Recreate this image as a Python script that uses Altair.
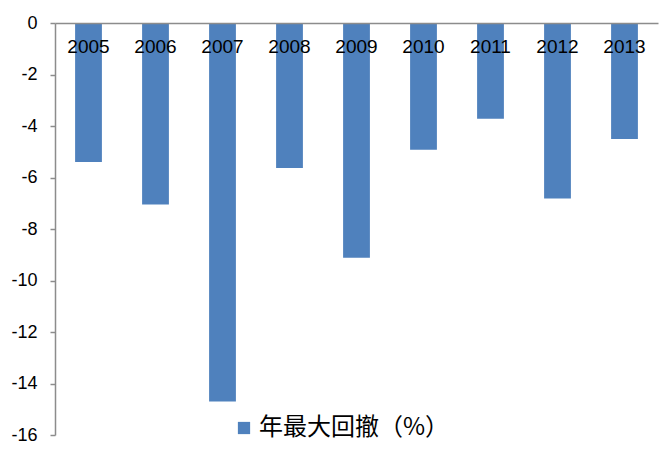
import altair as alt
import pandas as pd

years = ["2005", "2006", "2007", "2008", "2009", "2010", "2011", "2012", "2013"]
drawdown = [-5.4, -7.05, -14.7, -5.63, -9.12, -4.92, -3.72, -6.82, -4.5]
series_name = "年最大回撤（%）"
y_ticks = [0, -2, -4, -6, -8, -10, -12, -14, -16]

df = pd.DataFrame({"year": years, "value": drawdown, "series": [series_name] * len(years)})

W, H = 603, 412
gray = "#8c8c8c"

chart = alt.Chart(df).mark_bar(color="#4F81BD").encode(
    x=alt.X(
        "year:N",
        sort=years,
        scale=alt.Scale(paddingInner=0.6, paddingOuter=0.3),
        axis=alt.Axis(
            orient="top", title=None, labelAngle=0, zindex=1,
            labelFont="Liberation Sans", labelFontSize=19, labelColor="black",
            labelPadding=-14, labelBaseline="top", tickSize=0,
            domainColor=gray, grid=False,
        ),
    ),
    y=alt.Y(
        "value:Q", scale=alt.Scale(domain=[-16, 0], nice=False),
        axis=alt.Axis(
            orient="left", title=None, values=y_ticks, tickSize=5,
            labelExpr="'' + datum.value",
            labelFont="Liberation Sans", labelFontSize=18, labelColor="black",
            labelPadding=13, domainColor=gray, tickColor=gray, grid=False,
        ),
    ),
    color=alt.Color(
        "series:N",
        scale=alt.Scale(range=["#4F81BD"]),
        legend=alt.Legend(
            title=None, orient="none", legendX=177, legendY=393,
            symbolType="square", symbolSize=150, symbolStrokeWidth=0,
            labelFont="Noto Sans CJK SC", labelFontSize=24, labelColor="black",
            labelOffset=3, labelLimit=400,
        ),
    ),
).properties(
    width=W, height=H,
    autosize=alt.AutoSizeParams(type="none"),
    padding={"left": 47, "top": 15, "right": 5, "bottom": 15},
).configure_view(stroke=None).configure_axis(domainWidth=1.5, tickWidth=1.5)

chart.save("out.html", embed_options={"renderer": "svg", "actions": False})
